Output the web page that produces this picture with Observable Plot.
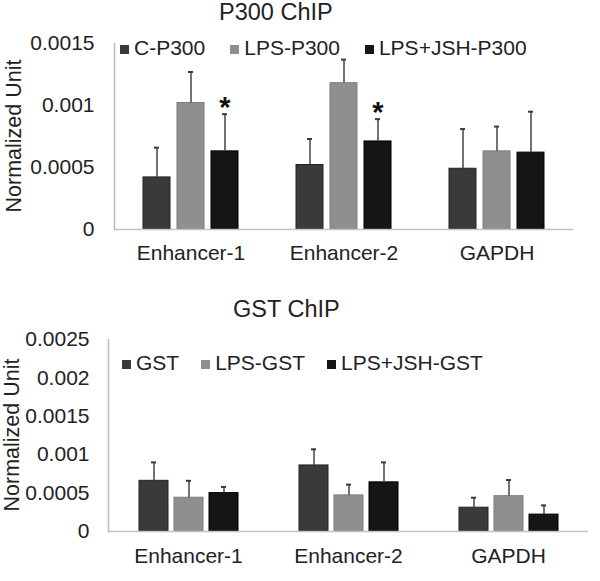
<!DOCTYPE html>
<html>
<head>
<meta charset="utf-8">
<script src="https://cdn.jsdelivr.net/npm/d3@7"></script>
<script src="https://cdn.jsdelivr.net/npm/@observablehq/plot@0.6"></script>
<style>
  body { margin: 0; background: #fff; }
  #wrap { position: relative; width: 600px; font-family: "Liberation Sans", Arial, sans-serif; color: #222; }
  .title { font-size: 23.5px; line-height: 24px; white-space: nowrap; }
  .legend { position: absolute; display: flex; align-items: center; font-size: 21px; line-height: 24px; height: 24px; white-space: nowrap; }
  .legend .item { display: flex; align-items: center; }
  .legend .sw { display: inline-block; width: 9px; height: 9px; margin-right: 5px; margin-top: 2px; }
  .ylab { position: absolute; font-size: 21.5px; line-height: 22px; white-space: nowrap; transform: translate(-50%, -50%) rotate(-90deg); }
</style>
</head>
<body>
<div id="wrap">
  <div class="title" style="height:29px;padding-left:219px;">P300 ChIP</div>
  <div id="c1"></div>
  <div class="title" style="padding-top:28px;height:24px;padding-left:233px;">GST ChIP</div>
  <div id="c2"></div>
</div>
<script>
// ---------- data ----------
const categories = ["Enhancer-1", "Enhancer-2", "GAPDH"];
const yAxisTitle = "Normalized Unit";

// P300 ChIP
const p300Series = ["C-P300", "LPS-P300", "LPS+JSH-P300"];
const p300_C        = [0.00042, 0.00052, 0.00049];
const p300_C_err    = [0.00024, 0.00021, 0.00032];
const p300_LPS      = [0.00102, 0.00118, 0.00063];
const p300_LPS_err  = [0.00025, 0.00019, 0.00020];
const p300_JSH      = [0.00063, 0.00071, 0.00062];
const p300_JSH_err  = [0.00030, 0.00018, 0.00033];
const p300Significant = ["Enhancer-1", "Enhancer-2"]; // asterisks on LPS+JSH-P300
const p300YTicks = ["0", "0.0005", "0.001", "0.0015"];

// GST ChIP
const gstSeries = ["GST", "LPS-GST", "LPS+JSH-GST"];
const gst_GST      = [0.00066, 0.00086, 0.00031];
const gst_GST_err  = [0.00024, 0.00021, 0.00013];
const gst_LPS      = [0.00044, 0.00047, 0.00046];
const gst_LPS_err  = [0.00022, 0.00014, 0.00021];
const gst_JSH      = [0.00050, 0.00064, 0.00022];
const gst_JSH_err  = [0.00008, 0.00026, 0.00012];
const gstYTicks = ["0", "0.0005", "0.001", "0.0015", "0.002", "0.0025"];

const seriesFill   = ["#3a3a3a", "#8f8f8f", "#151515"];
const seriesStroke = ["#222222", "#7c7c7c", "#000000"];

// ---------- build ----------
function rowsFor(series, vals, errs) {
  const rows = [];
  categories.forEach((c, ci) => {
    series.forEach((s, si) => {
      rows.push({cat: c, series: s, si, value: vals[si][ci], hi: vals[si][ci] + errs[si][ci]});
    });
  });
  return rows;
}

function chart(cfg) {
  const rows = rowsFor(cfg.series, cfg.values, cfg.errors);
  const sig = rows.filter(d => d.series === cfg.sigSeries && cfg.sigCats.includes(d.cat));
  const ticks = cfg.yTicks.map(Number);
  return Plot.plot({
    width: 600,
    height: cfg.height,
    marginTop: cfg.mt, marginBottom: cfg.mb, marginLeft: cfg.ml, marginRight: cfg.mr,
    style: {fontFamily: '"Liberation Sans", Arial, sans-serif', fontSize: "21px", color: "#222", background: "#fff", overflow: "visible"},
    fx: {domain: categories, padding: 0, label: null},
    x: {domain: cfg.series, paddingInner: cfg.pin, paddingOuter: cfg.pout, axis: null},
    y: {domain: [0, ticks[ticks.length - 1]]},
    color: {domain: cfg.series, range: seriesFill},
    marks: [
      Plot.axisY({ticks, tickFormat: (d) => cfg.yTicks[ticks.indexOf(d)], tickSize: 0, tickPadding: cfg.tp, fontSize: 21, label: null}),
      Plot.axisFx({anchor: "bottom", tickSize: 0, tickPadding: cfg.fxp, fontSize: 21, label: null}),
      Plot.barY(rows, {fx: "cat", x: "series", y: "value", fill: "series",
        stroke: d => seriesStroke[d.si], strokeWidth: 1}),
      Plot.ruleX(rows, {fx: "cat", x: "series", y1: "value", y2: "hi", stroke: "#505050", strokeWidth: 1.6}),
      Plot.tickY(rows, {fx: "cat", x: "series", y: "hi", stroke: "#3a3a3a", strokeWidth: 2, insetLeft: cfg.cap, insetRight: cfg.cap}),
      Plot.ruleY([0], {stroke: "#c4c4c4", strokeWidth: 1.5}),
      Plot.frame({anchor: "left", facetAnchor: "left", stroke: "#bdbdbd", strokeWidth: 1.5}),
      Plot.text(sig, {fx: "cat", x: "series", y: "hi", text: () => "*", dy: -6, fontSize: 29, fontWeight: "bold", fill: "#111"})
    ]
  });
}

function legend(series, left, top, gap) {
  const div = document.createElement("div");
  div.className = "legend";
  div.style.left = left + "px";
  div.style.top = top + "px";
  div.style.gap = gap + "px";
  series.forEach((s, i) => {
    const it = document.createElement("span");
    it.className = "item";
    const sw = document.createElement("span");
    sw.className = "sw";
    sw.style.background = seriesFill[i];
    it.appendChild(sw);
    it.appendChild(document.createTextNode(s));
    div.appendChild(it);
  });
  document.getElementById("wrap").appendChild(div);
}

function yLabel(cx, cy) {
  const div = document.createElement("div");
  div.className = "ylab";
  div.style.left = cx + "px";
  div.style.top = cy + "px";
  div.textContent = yAxisTitle;
  document.getElementById("wrap").appendChild(div);
}

document.getElementById("c1").appendChild(chart({
  series: p300Series,
  values: [p300_C, p300_LPS, p300_JSH],
  errors: [p300_C_err, p300_LPS_err, p300_JSH_err],
  sigSeries: "LPS+JSH-P300", sigCats: p300Significant,
  yTicks: p300YTicks,
  height: 240, mt: 14, mb: 40, ml: 113, mr: 27,
  pin: 0.2, pout: 0.85, tp: 20, fxp: 16, cap: 11
}));

document.getElementById("c2").appendChild(chart({
  series: gstSeries,
  values: [gst_GST, gst_LPS, gst_JSH],
  errors: [gst_GST_err, gst_LPS_err, gst_JSH_err],
  sigSeries: null, sigCats: [],
  yTicks: gstYTicks,
  height: 255, mt: 18, mb: 45, ml: 107, mr: 12,
  pin: 0.18, pout: 0.85, tp: 19, fxp: 17, cap: 12
}));

legend(p300Series, 120, 36, 25);
legend(gstSeries, 122, 351, 22);
yLabel(14, 136);
yLabel(12, 435);
</script>
</body>
</html>
